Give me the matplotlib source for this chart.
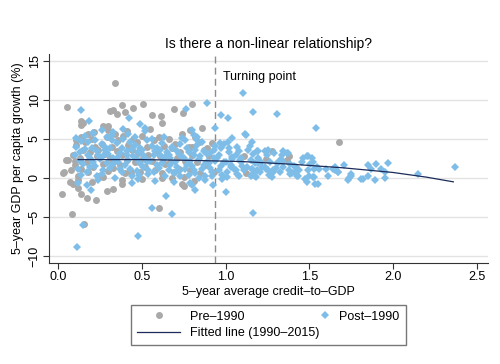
import numpy as np
import matplotlib
matplotlib.use("Agg")
import matplotlib.pyplot as plt
from matplotlib.legend_handler import HandlerLine2D

# Pre-1990 observations (grey circles)
pre_x = [0.052, 0.34, 0.31, 0.33, 0.38, 0.35, 0.40, 0.45, 0.506, 0.69, 0.745, 0.80, 0.86, 0.79,
         0.135, 0.14, 0.15, 0.563, 0.617, 0.62, 0.267, 0.217, 0.30,
         0.022, 0.085, 0.157, 0.605, 0.14, 0.175, 0.225, 0.29, 0.33, 0.038, 0.073, 0.088,
         0.062, 0.078, 0.12, 0.38, 0.436, 0.74, 0.62, 0.485, 0.68, 0.75, 0.032, 0.11, 0.048,
         1.11, 1.24, 1.28, 1.365, 1.38, 1.12, 1.68, 0.89, 0.80,
         0.09, 0.10, 0.11, 0.12, 0.13, 0.14, 0.15, 0.12, 0.10, 0.14,
         0.16, 0.17, 0.18, 0.19, 0.20, 0.21, 0.22, 0.23, 0.24, 0.18, 0.20, 0.24,
         0.26, 0.27, 0.28, 0.29, 0.30, 0.31, 0.32, 0.33, 0.34, 0.35, 0.27, 0.30, 0.33,
         0.36, 0.37, 0.38, 0.39, 0.40, 0.41, 0.42, 0.43, 0.44, 0.45, 0.38, 0.41,
         0.46, 0.47, 0.48, 0.49, 0.50, 0.51, 0.52, 0.53, 0.54, 0.55, 0.50,
         0.56, 0.57, 0.58, 0.59, 0.60, 0.61, 0.62, 0.63, 0.64, 0.65,
         0.66, 0.67, 0.68, 0.69, 0.70, 0.71, 0.72, 0.73, 0.74, 0.75,
         0.76, 0.78, 0.79, 0.80, 0.82, 0.83, 0.85, 0.87, 0.88, 0.90, 0.92, 0.93, 0.84, 0.81]
pre_y = [9.1, 12.2, 8.6, 8.7, 9.4, 8.2, 8.4, 8.9, 9.5, 8.8, 8.3, 9.5, 6.4, 6.2,
         7.3, 6.8, 7.0, 8.1, 7.9, 7.1, 6.7, 5.9, 6.6,
         -2.05, -4.65, -5.86, -3.9, -2.1, -2.6, -2.8, -1.7, -1.45, 0.7, -0.47, -0.8,
         2.3, 1.0, -1.3, -0.8, 0.6, -0.8, 0.0, 2.1, 0.0, -1.0, 0.6, 4.9, 2.3,
         2.8, 2.4, 3.5, 2.3, 2.8, 0.6, 4.65, 3.8, 4.0,
         3.0, 1.6, 4.2, 0.3, 2.5, 5.3, 3.6, -0.3, 2.2, 1.2,
         4.6, 2.0, 0.8, 3.3, 5.0, 1.4, 4.0, 2.8, 0.2, 5.6, -0.5, 3.6,
         4.4, 1.8, 3.1, 5.2, 0.9, 2.5, 4.0, 1.3, 5.6, 3.4, 0.1, 6.2, 2.0,
         4.8, 1.6, 3.0, 5.4, 0.6, 2.3, 4.2, 1.0, 3.6, 5.0, -0.3, 6.0,
         2.0, 4.6, 3.2, 0.8, 5.4, 2.6, 1.4, 4.0, 3.0, 6.3, -0.2,
         2.2, 4.8, 1.0, 3.4, 5.2, 2.8, 0.6, 4.1, 1.8, 3.0,
         5.0, 2.0, 3.8, 0.7, 4.4, 2.6, 1.2, 3.3, 5.6, 0.1,
         2.2, 4.0, 1.0, 3.0, 5.2, 2.0, 0.6, 3.6, 1.6, 2.8, 4.5, 0.8, 4.6, -0.4]

# Post-1990 observations (blue diamonds)
post_x = [0.115, 0.151, 0.48, 0.563, 0.68, 0.643, 0.818, 0.80, 1.0, 0.927, 1.162,
          0.135, 0.187, 0.424, 0.764, 0.888, 0.975, 1.013, 0.937, 1.166, 1.306, 1.54, 1.106,
          0.80, 0.81, 0.83, 1.04, 1.017, 0.967, 1.116, 0.197, 0.44, 0.485,
          0.26, 0.33, 0.207, 0.49, 0.52,
          0.10, 0.11, 0.12, 0.13, 0.14, 0.11, 0.12, 0.13, 0.14,
          0.15, 0.16, 0.17, 0.18, 0.19, 0.16, 0.17, 0.18, 0.19,
          0.20, 0.21, 0.22, 0.23, 0.24, 0.21, 0.22, 0.23, 0.24,
          0.25, 0.26, 0.27, 0.28, 0.29, 0.26, 0.27, 0.28, 0.29,
          0.30, 0.31, 0.32, 0.33, 0.34, 0.31, 0.32, 0.33, 0.34,
          0.35, 0.36, 0.37, 0.38, 0.39, 0.36, 0.37, 0.38, 0.39,
          0.40, 0.41, 0.42, 0.43, 0.44, 0.41, 0.42, 0.43, 0.44,
          0.45, 0.46, 0.47, 0.48, 0.49, 0.46, 0.47, 0.48, 0.49,
          0.50, 0.51, 0.52, 0.53, 0.54, 0.51, 0.52, 0.53, 0.54,
          0.55, 0.56, 0.57, 0.58, 0.59, 0.56, 0.57, 0.58, 0.59,
          0.60, 0.61, 0.62, 0.63, 0.64, 0.61, 0.62, 0.63, 0.64,
          0.65, 0.66, 0.67, 0.68, 0.69, 0.66, 0.67, 0.68, 0.69,
          0.70, 0.71, 0.72, 0.73, 0.74, 0.71, 0.72, 0.73, 0.74,
          0.75, 0.76, 0.77, 0.78, 0.79, 0.76, 0.77, 0.78, 0.79,
          0.80, 0.81, 0.82, 0.83, 0.84, 0.81, 0.82, 0.83, 0.84,
          0.85, 0.86, 0.87, 0.88, 0.89, 0.86, 0.87, 0.88, 0.89,
          0.90, 0.91, 0.92, 0.93, 0.94, 0.91, 0.92, 0.93, 0.94,
          0.95, 0.96, 0.97, 0.98, 0.99, 0.96, 0.97, 0.98, 0.99,
          1.00, 1.01, 1.02, 1.03, 1.04, 1.01, 1.02, 1.03, 1.04,
          1.05, 1.06, 1.07, 1.08, 1.09, 1.06, 1.07, 1.08, 1.09,
          1.12, 1.156, 1.146, 1.136, 1.162, 1.196, 1.236, 1.256, 1.345, 1.34, 1.375,
          1.465, 1.485, 1.515, 1.525, 1.545, 1.455, 1.42, 1.475, 1.485, 1.534, 1.55,
          1.53, 1.61, 1.655, 1.67, 1.71, 1.73, 1.75, 1.81, 1.85,
          1.087, 1.097, 1.11, 1.127, 1.156, 1.176, 1.186, 1.166, 1.18, 1.15, 1.196,
          1.21, 1.236, 1.256, 1.266, 1.28, 1.285, 1.30, 1.31, 1.345, 1.345, 1.38,
          1.385, 1.415, 1.43, 1.385, 1.505, 1.495, 1.53, 1.56, 1.60, 1.655, 1.52,
          1.365, 1.33, 1.315, 1.325, 1.285, 1.275, 1.26, 1.24, 1.25, 1.29, 1.22,
          1.205, 1.19, 1.195, 1.175, 1.17, 1.16, 1.15, 1.265, 1.395, 1.41, 1.44,
          1.74, 1.75, 1.82, 1.87, 1.90, 1.89, 1.93, 1.95, 1.95, 1.97, 2.15, 2.37,
          1.64, 1.67, 1.85, 1.49, 1.50, 1.425]
post_y = [-8.8, -6.0, -7.4, -3.9, -4.6, -2.3, -1.55, -0.9, -1.85, -0.9, -4.5,
          8.7, 7.35, 7.65, 8.8, 9.6, 8.1, 7.7, 6.45, 8.5, 8.2, 6.4, 10.9,
          6.1, 5.5, 4.9, 5.1, 4.65, 4.45, 5.6, -1.55, -0.6, 0.4,
          6.15, 5.9, 5.8, 6.9, 6.4,
          2.9, 4.0, 1.1, 3.3, 0.4, 5.1, -0.6, 2.2, 4.7,
          1.8, 3.7, 0.7, 4.6, 2.5, 5.4, -0.9, 3.0, 1.4,
          3.9, 2.1, 4.8, 0.2, 2.9, 5.8, 1.5, 3.4, -0.3,
          2.4, 4.3, 1.0, 3.6, 5.2, 0.5, 2.8, 4.0, 1.9,
          3.1, 1.3, 4.9, 2.6, 0.0, 3.8, 5.5, 1.8, 2.2,
          4.5, 2.0, 3.2, 0.8, 5.0, 2.7, 1.2, 3.9, 6.3,
          1.6, 3.5, 2.3, 4.6, 0.3, 2.9, 5.6, 1.1, 3.7,
          2.8, 4.2, 0.9, 3.3, 1.9, 5.3, 2.4, -0.2, 3.9,
          3.6, 1.4, 2.6, 4.8, 0.5, 3.0, 6.0, 2.0, 1.0,
          2.2, 4.1, 0.8, 3.4, 1.6, 5.0, 2.9, -0.4, 3.8,
          1.3, 3.0, 4.5, 2.4, 0.2, 3.6, 1.9, 5.2, 2.7,
          3.3, 1.0, 2.5, 4.0, 0.6, 2.9, 1.7, 3.8, -0.5,
          2.0, 3.5, 0.9, 4.4, 2.7, 1.4, 3.1, 0.3, 5.1,
          2.6, 1.2, 3.9, 0.4, 2.2, 4.8, 1.7, 3.3, -0.6,
          1.5, 3.0, 0.6, 4.2, 2.4, 1.0, 3.6, 5.3, 0.0,
          2.8, 1.1, 3.4, 0.3, 2.0, 4.6, 1.6, -0.3, 3.1,
          1.9, 3.2, 0.7, 2.5, 4.1, 1.3, 0.2, 3.6, 2.2,
          2.6, 1.0, 3.8, 0.4, 2.1, 3.0, 1.5, -0.2, 4.3,
          2.0, 0.8, 3.3, 1.4, 2.7, 0.1, 3.9, 1.7, 2.4,
          1.2, 2.9, 0.5, 3.5, 2.0, 1.0, 4.0, 0.3, 2.6,
          5.5, 4.65, 4.1, 3.6, 3.1, 3.4, 3.4, 3.6, 3.4, 2.95, 3.2,
          2.6, 2.8, 2.5, 2.1, 1.4, 2.1, 1.4, -0.2, -0.5, -0.8, -0.8,
          0.17, 0.26, 1.0, 0.8, 1.67, -0.26, 0.3, -0.2, 1.67,
          2.3, 1.5, 1.0, 1.45, 1.2, 1.9, 1.0, 0.4, 0.17, 0.3, 2.5,
          2.1, 1.45, 1.0, 0.4, 0.6, 1.0, 1.3, 1.9, 2.1, 1.4, 1.0,
          0.5, 0.8, 0.2, 1.75, 1.8, 1.0, 1.2, 1.1, 1.2, 1.4, 0.1,
          3.25, 2.4, 1.9, 0.7, 0.8, 0.17, 0.4, 1.1, 2.95, 3.25, 1.45,
          0.7, 3.5, 1.9, 0.26, 0.6, 1.2, 2.3, 2.1, 0.6, 1.5, 1.0,
          0.0, 0.5, -0.2, 1.2, 1.8, -0.26, 1.2, 0.7, 0.0, 1.9, 0.5, 1.45,
          1.2, 0.8, 0.3, 2.8, 0.2, 0.3]

# Fitted line (1990-2015), read at a few points
fit_x = [0.12, 0.5, 0.8, 1.1, 1.4, 1.7, 2.0, 2.2, 2.36]
fit_y = [2.35, 2.35, 2.25, 2.1, 1.75, 1.3, 0.7, 0.1, -0.5]

turning_point = 0.937


class RightMarkerHandler(HandlerLine2D):
    # put the legend marker near the right end of its slot (Stata-like layout)
    def get_xdata(self, legend, xdescent, ydescent, width, height, fontsize):
        right = -xdescent + width
        xdata = np.array([right - 6, right])
        return xdata, xdata


plt.rcParams["font.family"] = ["Liberation Sans", "DejaVu Sans"]

fig = plt.figure(figsize=(5, 3.64), dpi=100)
ax = fig.add_axes([0.098, 0.2775, 0.878, 0.5745])

grey = "#a9a9a9"
blue = "#7dbde8"
navy = "#1c2b5a"

pre, = ax.plot(pre_x, pre_y, "o", color=grey, markersize=5, markeredgewidth=0,
               label="Pre\u20131990", zorder=3)
post, = ax.plot(post_x, post_y, "D", color=blue, markersize=3.8, markeredgewidth=0,
                label="Post\u20131990", zorder=4)
fit, = ax.plot(fit_x, fit_y, color=navy, linewidth=0.9,
               label="Fitted line (1990\u20132015)", zorder=5)

ax.axvline(turning_point, color="#8c8c8c", linestyle=(0, (5, 3)), linewidth=1.0, zorder=2)
ax.text(turning_point + 0.05, 13.0, "Turning point", fontsize=9, va="center", ha="left")

ax.set_xlim(-0.054, 2.567)
ax.set_ylim(-10.9, 15.9)
ax.set_xticks([0, 0.5, 1.0, 1.5, 2.0, 2.5])
ax.set_xticklabels(["0.0", "0.5", "1.0", "1.5", "2.0", "2.5"])
ax.set_yticks([-10, -5, 0, 5, 10, 15])
ax.set_yticklabels(["\u221210", "\u22125", "0", "5", "10", "15"], rotation=90, va="center")
ax.tick_params(labelsize=9, length=4, width=0.8, color="#333333", pad=2)
ax.grid(axis="y", color="#e3e3e3", linewidth=1.0, zorder=0)
ax.set_axisbelow(True)
for s in ["top", "right"]:
    ax.spines[s].set_visible(False)
for s in ["left", "bottom"]:
    ax.spines[s].set_color("#333333")
    ax.spines[s].set_linewidth(0.8)

ax.set_title("Is there a non-linear relationship?", fontsize=10, pad=4)
ax.set_xlabel("5\u2013year average credit\u2013to\u2013GDP", fontsize=9, labelpad=2)
ax.set_ylabel("5\u2013year GDP per capita growth (%)", fontsize=9, labelpad=3)

fig.legend(handles=[pre, fit, post], ncol=2, loc="center", bbox_to_anchor=(0.537, 0.107),
           fontsize=9, frameon=True, fancybox=False, edgecolor="#555555",
           handlelength=3.4, columnspacing=-2.6, borderpad=0.5, labelspacing=0.35,
           handletextpad=0.8, handler_map={post: RightMarkerHandler()})

fig.savefig("out.png", dpi=100)
